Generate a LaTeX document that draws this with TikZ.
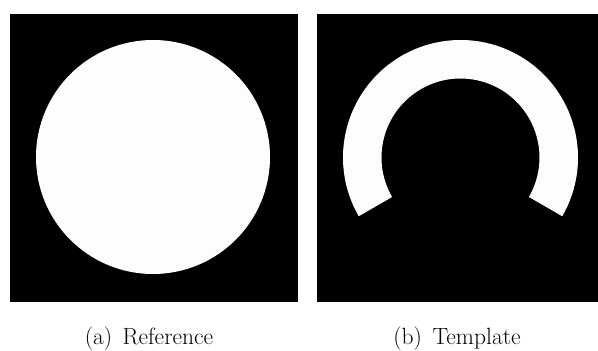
\documentclass[tikz,border=0pt]{standalone}
\usetikzlibrary{calc}
\begin{document}
\begin{tikzpicture}[x=1pt,y=1pt,
  panel/.style={fill=black},
  blob/.style={fill={rgb,255:red,253;green,253;blue,253}},
  captext/.style={anchor=base,inner sep=0pt,font=\fontsize{23.5}{28}\selectfont}]
\useasboundingbox (0,0) rectangle (598,351);
\fill[white] (0,0) rectangle (598,351);
% left panel
\fill[panel] (10,49) rectangle (298,337);
\fill[blob] (153,194) circle[radius=117];
% right panel
\fill[panel] (317,49) rectangle (598,337);
\coordinate (rc) at (460.5,193.5);
\fill[blob] ($(rc)+(-30:117.5)$) arc[start angle=-30,end angle=210,radius=117.5]
  -- ($(rc)+(210:79)$) arc[start angle=210,end angle=-30,radius=79] -- cycle;
\node[captext] (ca) at (149,6) {(a)\hspace{0.45em}Reference};
\node[captext] (cb) at (457,6) {(b)\hspace{0.45em}Template};
\end{tikzpicture}
\end{document}
